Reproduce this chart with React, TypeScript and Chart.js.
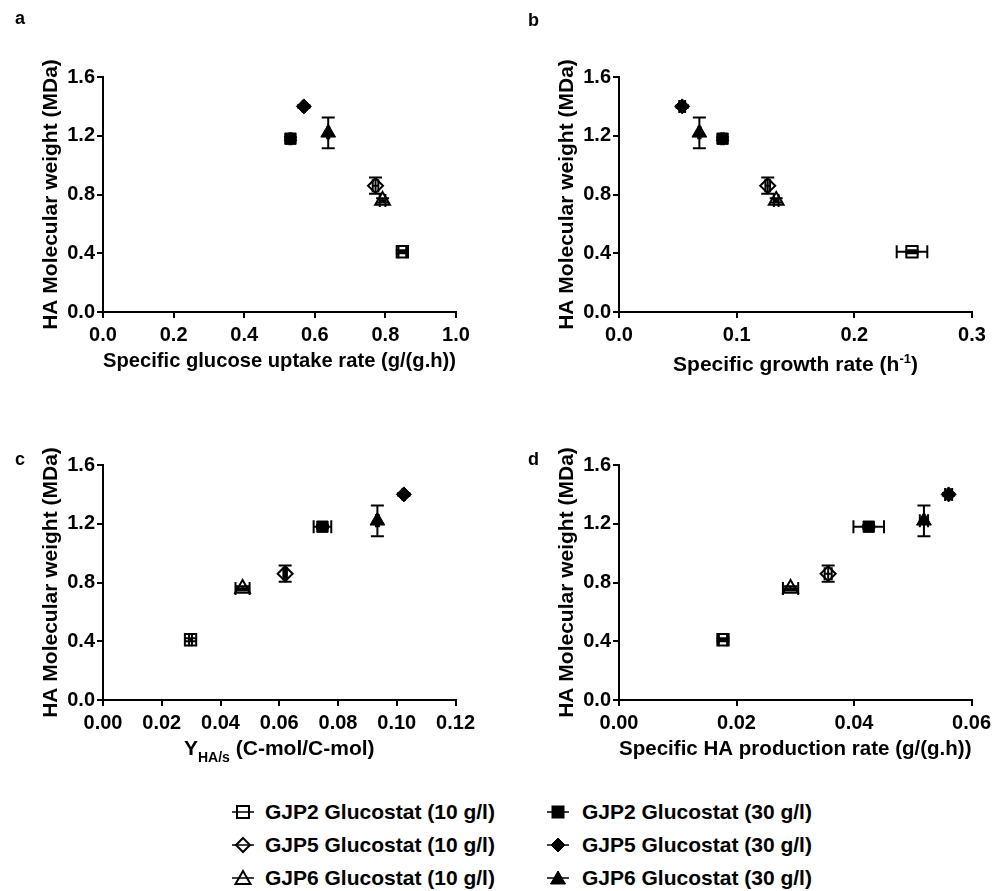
import React, { useEffect, useRef } from 'react';
import { Chart, registerables } from 'chart.js';

Chart.register(...registerables);

const FONT = '"Liberation Sans", Arial, Helvetica, sans-serif';

// ---------- data ----------
const seriesNames = [
  'GJP2 Glucostat (10 g/l)',
  'GJP5 Glucostat (10 g/l)',
  'GJP6 Glucostat (10 g/l)',
  'GJP2 Glucostat (30 g/l)',
  'GJP5 Glucostat (30 g/l)',
  'GJP6 Glucostat (30 g/l)',
];
const seriesStyles = ['rect', 'rectRot', 'triangle', 'rect', 'rectRot', 'triangle'];
const seriesFilled = [false, false, false, true, true, true];

// HA molecular weight (MDa), shared y values for all panels
const molecularWeight = [0.41, 0.86, 0.76, 1.18, 1.4, 1.22];
const molecularWeightErr = [0.01, 0.055, 0.015, 0.01, 0.01, 0.105];

// panel a: specific glucose uptake rate (g/(g.h))
const glucoseUptakeRate = [0.848, 0.772, 0.792, 0.531, 0.569, 0.638];
const glucoseUptakeRateErr = [0.011, 0.008, 0.008, 0.003, 0.003, 0.003];
// panel b: specific growth rate (1/h)
const growthRate = [0.249, 0.1264, 0.1336, 0.088, 0.0537, 0.0683];
const growthRateErr = [0.013, 0.002, 0.002, 0.001, 0.0025, 0.001];
// panel c: Y HA/s (C-mol/C-mol)
const yieldHA = [0.0298, 0.062, 0.0475, 0.0747, 0.1024, 0.0934];
const yieldHAErr = [0.0005, 0.0006, 0.0024, 0.003, 0.0004, 0.0005];
// panel d: specific HA production rate (g/(g.h))
const haProductionRate = [0.0177, 0.0356, 0.0292, 0.0425, 0.0561, 0.0519];
const haProductionRateErr = [0.0007, 0.0006, 0.0013, 0.0026, 0.0006, 0.0007];

// tick labels
const yTicks = [0, 0.4, 0.8, 1.2, 1.6];
const xTicksA = [0, 0.2, 0.4, 0.6, 0.8, 1.0];
const xTicksB = [0, 0.1, 0.2, 0.3];
const xTicksC = [0, 0.02, 0.04, 0.06, 0.08, 0.1, 0.12];
const xTicksD = [0, 0.02, 0.04, 0.06];

// ---------- styles ----------
const seriesRadius: Record<string, number> = { rect: 8, rectRot: 7.5, triangle: 8.5 };
const tickFont = { family: FONT, size: 20, weight: 'bold' as const };
const titleFont = { family: FONT, size: 21, weight: 'bold' as const };

const errorBarPlugin = {
  id: 'errorBars',
  beforeDatasetsDraw(chart: any) {
    const { ctx } = chart;
    const xs = chart.scales.x;
    const ys = chart.scales.y;
    const cap = 6.5;
    ctx.save();
    ctx.strokeStyle = '#000';
    ctx.lineWidth = 2;
    chart.data.datasets.forEach((ds: any) => {
      ds.data.forEach((pt: any, j: number) => {
        const px = xs.getPixelForValue(pt.x);
        const py = ys.getPixelForValue(pt.y);
        const ey = ds.errY ? ds.errY[j] : 0;
        const ex = ds.errX ? ds.errX[j] : 0;
        ctx.beginPath();
        if (ey > 0) {
          const y1 = ys.getPixelForValue(pt.y + ey);
          const y2 = ys.getPixelForValue(pt.y - ey);
          ctx.moveTo(px, y1);
          ctx.lineTo(px, y2);
          ctx.moveTo(px - cap, y1);
          ctx.lineTo(px + cap, y1);
          ctx.moveTo(px - cap, y2);
          ctx.lineTo(px + cap, y2);
        }
        if (ex > 0) {
          const x1 = xs.getPixelForValue(pt.x - ex);
          const x2 = xs.getPixelForValue(pt.x + ex);
          ctx.moveTo(x1, py);
          ctx.lineTo(x2, py);
          ctx.moveTo(x1, py - cap);
          ctx.lineTo(x1, py + cap);
          ctx.moveTo(x2, py - cap);
          ctx.lineTo(x2, py + cap);
        }
        ctx.stroke();
      });
    });
    ctx.restore();
  },
};

type Seg = { text: string; size: number; dy: number };

const segTitlePlugin = (segs: Seg[], baseline: number) => ({
  id: 'segTitle',
  afterDraw(chart: any) {
    const { ctx, chartArea } = chart;
    ctx.save();
    ctx.fillStyle = '#000';
    ctx.textBaseline = 'alphabetic';
    ctx.textAlign = 'left';
    let total = 0;
    const widths = segs.map((s) => {
      ctx.font = `bold ${s.size}px ${FONT}`;
      const w = ctx.measureText(s.text).width;
      total += w;
      return w;
    });
    let x = (chartArea.left + chartArea.right) / 2 - total / 2;
    segs.forEach((s, i) => {
      ctx.font = `bold ${s.size}px ${FONT}`;
      ctx.fillText(s.text, x, baseline + s.dy);
      x += widths[i];
    });
    ctx.restore();
  },
});

type PanelSpec = {
  xs: number[];
  xErr: number[];
  xTicks: number[];
  dec: number;
  xTitle: string | null;
  segs?: Seg[];
  segBaseline?: number;
};

function buildConfig(p: PanelSpec): any {
  const datasets = seriesNames.map((name, i) => ({
    label: name,
    data: [{ x: p.xs[i], y: molecularWeight[i] }],
    errX: [p.xErr[i]],
    errY: [molecularWeightErr[i]],
    pointStyle: seriesStyles[i],
    pointRadius: seriesRadius[seriesStyles[i]],
    pointHoverRadius: seriesRadius[seriesStyles[i]],
    pointBackgroundColor: seriesFilled[i] ? '#000' : 'rgba(0,0,0,0)',
    pointBorderColor: '#000',
    pointBorderWidth: seriesFilled[i] ? 1 : 2,
    showLine: false,
  }));
  const grid = {
    display: true,
    drawOnChartArea: false,
    drawTicks: true,
    tickLength: 6,
    color: '#000',
    lineWidth: 2,
  };
  const border = { display: true, color: '#000', width: 2 };
  const plugins: any[] = [errorBarPlugin];
  if (p.segs) plugins.push(segTitlePlugin(p.segs, p.segBaseline || 368));
  return {
    type: 'scatter',
    data: { datasets },
    options: {
      animation: false,
      responsive: false,
      events: [],
      layout: { padding: { top: 77, right: 24, bottom: 0, left: 0 } },
      plugins: { legend: { display: false }, tooltip: { enabled: false } },
      scales: {
        x: {
          type: 'linear',
          min: p.xTicks[0],
          max: p.xTicks[p.xTicks.length - 1],
          afterBuildTicks: (s: any) => {
            s.ticks = p.xTicks.map((v) => ({ value: v }));
          },
          afterFit: (s: any) => {
            s.height = 76;
          },
          ticks: {
            font: tickFont,
            color: '#000',
            padding: 5,
            maxRotation: 0,
            autoSkip: false,
            callback: (v: any) => Number(v).toFixed(p.dec),
          },
          grid,
          border,
          title: p.xTitle
            ? {
                display: true,
                text: p.xTitle,
                font: titleFont,
                color: '#000',
                padding: { top: 0, bottom: 14 },
              }
            : { display: false },
        },
        y: {
          type: 'linear',
          min: 0,
          max: 1.6,
          afterBuildTicks: (s: any) => {
            s.ticks = yTicks.map((v) => ({ value: v }));
          },
          afterFit: (s: any) => {
            s.width = 103;
          },
          ticks: {
            font: tickFont,
            color: '#000',
            padding: 2,
            autoSkip: false,
            callback: (v: any) => Number(v).toFixed(1),
          },
          grid,
          border,
          title: {
            display: true,
            text: 'HA Molecular weight (MDa)',
            font: titleFont,
            color: '#000',
            padding: { top: 39, bottom: 0 },
          },
        },
      },
    },
    plugins,
  };
}

const panels: { key: string; left: number; top: number; spec: PanelSpec }[] = [
  {
    key: 'a',
    left: 0,
    top: 0,
    spec: {
      xs: glucoseUptakeRate,
      xErr: glucoseUptakeRateErr,
      xTicks: xTicksA,
      dec: 1,
      xTitle: 'Specific glucose uptake rate (g/(g.h))',
    },
  },
  {
    key: 'b',
    left: 516,
    top: 0,
    spec: {
      xs: growthRate,
      xErr: growthRateErr,
      xTicks: xTicksB,
      dec: 1,
      xTitle: null,
      segs: [
        { text: 'Specific growth rate (h', size: 21, dy: 0 },
        { text: '-1', size: 13, dy: -8 },
        { text: ')', size: 21, dy: 0 },
      ],
      segBaseline: 371,
    },
  },
  {
    key: 'c',
    left: 0,
    top: 388,
    spec: {
      xs: yieldHA,
      xErr: yieldHAErr,
      xTicks: xTicksC,
      dec: 2,
      xTitle: null,
      segs: [
        { text: 'Y', size: 21, dy: 0 },
        { text: 'HA/s', size: 14, dy: 7 },
        { text: ' (C-mol/C-mol)', size: 21, dy: 0 },
      ],
      segBaseline: 367,
    },
  },
  {
    key: 'd',
    left: 516,
    top: 388,
    spec: {
      xs: haProductionRate,
      xErr: haProductionRateErr,
      xTicks: xTicksD,
      dec: 2,
      xTitle: 'Specific HA production rate (g/(g.h))',
    },
  },
];

const panelLabels = [
  { text: 'a', left: 15, top: 9 },
  { text: 'b', left: 528, top: 11 },
  { text: 'c', left: 15, top: 450 },
  { text: 'd', left: 528, top: 450 },
];

function ChartPanel({ left, top, spec }: { left: number; top: number; spec: PanelSpec }) {
  const ref = useRef<HTMLCanvasElement | null>(null);
  useEffect(() => {
    if (!ref.current) return;
    const chart = new Chart(ref.current, buildConfig(spec));
    return () => chart.destroy();
  }, [spec]);
  return (
    <canvas
      ref={ref}
      width={480}
      height={388}
      style={{ position: 'absolute', left, top, width: 480, height: 388, display: 'block' }}
    />
  );
}

function Marker({ idx, cx, cy }: { idx: number; cx: number; cy: number }) {
  const style = seriesStyles[idx];
  const filled = seriesFilled[idx];
  const fill = filled ? '#000' : 'none';
  const sw = filled ? 1 : 2;
  let shape: React.ReactNode = null;
  if (style === 'rect') {
    shape = <rect x={9} y={4} width={12} height={12} fill={fill} stroke="#000" strokeWidth={sw} />;
  } else if (style === 'rectRot') {
    shape = <polygon points="15,3 22,10 15,17 8,10" fill={fill} stroke="#000" strokeWidth={sw} />;
  } else {
    shape = <polygon points="15,3 22.5,16 7.5,16" fill={fill} stroke="#000" strokeWidth={sw} />;
  }
  return (
    <svg
      width={30}
      height={20}
      style={{ position: 'absolute', left: cx - 15, top: cy - 10 }}
    >
      <line x1={4} y1={10} x2={26} y2={10} stroke="#000" strokeWidth={1.5} />
      {shape}
    </svg>
  );
}

const legendRowY = [812, 845, 878];
const legendCols = [
  { markerX: 243, textX: 265, items: [0, 1, 2] },
  { markerX: 558, textX: 582, items: [3, 4, 5] },
];

export default function App() {
  return (
    <div
      style={{
        position: 'absolute',
        left: 0,
        top: 0,
        width: 1003,
        height: 891,
        background: '#fff',
        overflow: 'hidden',
      }}
    >
      {panels.map((p) => (
        <ChartPanel key={p.key} left={p.left} top={p.top} spec={p.spec} />
      ))}
      {panelLabels.map((l) => (
        <div
          key={l.text}
          style={{
            position: 'absolute',
            left: l.left,
            top: l.top,
            font: `bold 18px ${FONT}`,
            lineHeight: '18px',
            color: '#000',
          }}
        >
          {l.text}
        </div>
      ))}
      {legendCols.map((col, ci) =>
        col.items.map((idx, ri) => (
          <React.Fragment key={`${ci}-${ri}`}>
            <Marker idx={idx} cx={col.markerX} cy={legendRowY[ri]} />
            <div
              style={{
                position: 'absolute',
                left: col.textX,
                top: legendRowY[ri] - 12,
                height: 24,
                font: `bold 21px ${FONT}`,
                lineHeight: '24px',
                color: '#000',
                whiteSpace: 'nowrap',
              }}
            >
              {seriesNames[idx]}
            </div>
          </React.Fragment>
        ))
      )}
    </div>
  );
}
